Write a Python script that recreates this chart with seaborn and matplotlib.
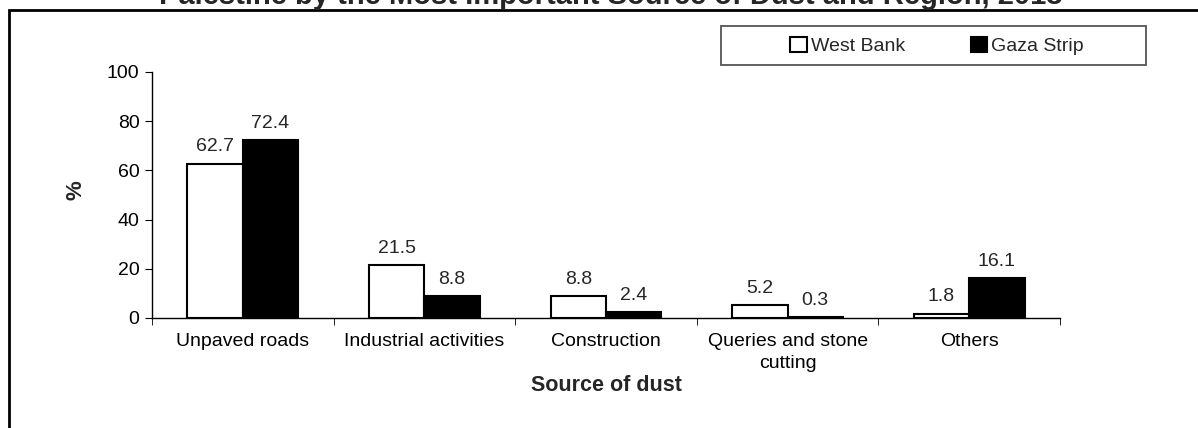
import pandas as pd
import seaborn as sns
import matplotlib.pyplot as plt
from matplotlib.patches import Rectangle, Patch

categories = ['Unpaved roads', 'Industrial activities', 'Construction',
              'Queries and stone\ncutting', 'Others']
west_bank = [62.7, 21.5, 8.8, 5.2, 1.8]
gaza_strip = [72.4, 8.8, 2.4, 0.3, 16.1]
regions = ['West Bank', 'Gaza Strip']

df = pd.DataFrame({
    'Source': categories * 2,
    'Region': [regions[0]] * 5 + [regions[1]] * 5,
    'Value': west_bank + gaza_strip,
})

sns.set_style('white')
plt.rcParams['font.family'] = ['Liberation Sans', 'DejaVu Sans']

W, H = 1198, 428
fig = plt.figure(figsize=(W / 100, H / 100), dpi=100)
ax = fig.add_axes([152 / W, 1 - 318 / H, 908 / W, 246 / H])

sns.barplot(data=df, x='Source', y='Value', hue='Region',
            palette=['white', 'black'], edgecolor='black', linewidth=1.5,
            width=0.61, ax=ax, legend=False)

for cont in ax.containers:
    ax.bar_label(cont, labels=[f'{v:.1f}' for v in cont.datavalues],
                 padding=6, fontsize=14)

ax.set_ylim(0, 100)
ax.set_yticks(range(0, 101, 20))
ax.set_xlim(-0.5, 4.5)
ax.tick_params(axis='both', labelsize=14, labelcolor='black')
ax.set_xticks([i - 0.5 for i in range(6)], minor=True)
ax.tick_params(axis='x', which='major', length=0, pad=11)
ax.tick_params(axis='x', which='minor', length=5, direction='out', color='black', bottom=True)
ax.tick_params(axis='y', length=5, direction='out', color='black', left=True, pad=4)
for lbl in ax.get_xticklabels():
    lbl.set_linespacing(1.35)
for s in ['top', 'right']:
    ax.spines[s].set_visible(False)
for s in ['left', 'bottom']:
    ax.spines[s].set_color('black')
    ax.spines[s].set_linewidth(1)

ax.set_xlabel('Source of dust', fontsize=15.5, fontweight='bold', va='top')
ax.xaxis.set_label_coords(0.5, (318 - 375) / 246)
ax.set_ylabel('%', fontsize=16, fontweight='bold', va='center')
ax.yaxis.set_label_coords((76 - 152) / 908, 0.52)

# legend: box drawn separately, entries centred in it
handles = [Patch(facecolor='white', edgecolor='black', linewidth=1.5),
           Patch(facecolor='black', edgecolor='black', linewidth=1.5)]
fig.legend(handles, regions, ncol=2, fontsize=14,
           loc='center', bbox_to_anchor=(937 / W, 1 - 46 / H),
           frameon=False, handlelength=0.85, handleheight=0.85,
           handletextpad=0.2, columnspacing=3.4, borderpad=0)
fig.patches.append(Rectangle((721 / W, 1 - 65 / H), 425 / W, 39 / H,
                             transform=fig.transFigure, fill=False,
                             edgecolor='#555555', linewidth=1.3))

# figure border
fig.patches.append(Rectangle((9 / W, -0.05), 1.1, 1 - 10.5 / H + 0.05,
                             transform=fig.transFigure, fill=False,
                             edgecolor='black', linewidth=2))

fig.text(611 / W, 1 - 4.5 / H,
         'Palestine by the Most Important Source of Dust and Region, 2013',
         ha='center', va='baseline', fontsize=21, fontweight='bold')

fig.savefig('out.png', dpi=100)
